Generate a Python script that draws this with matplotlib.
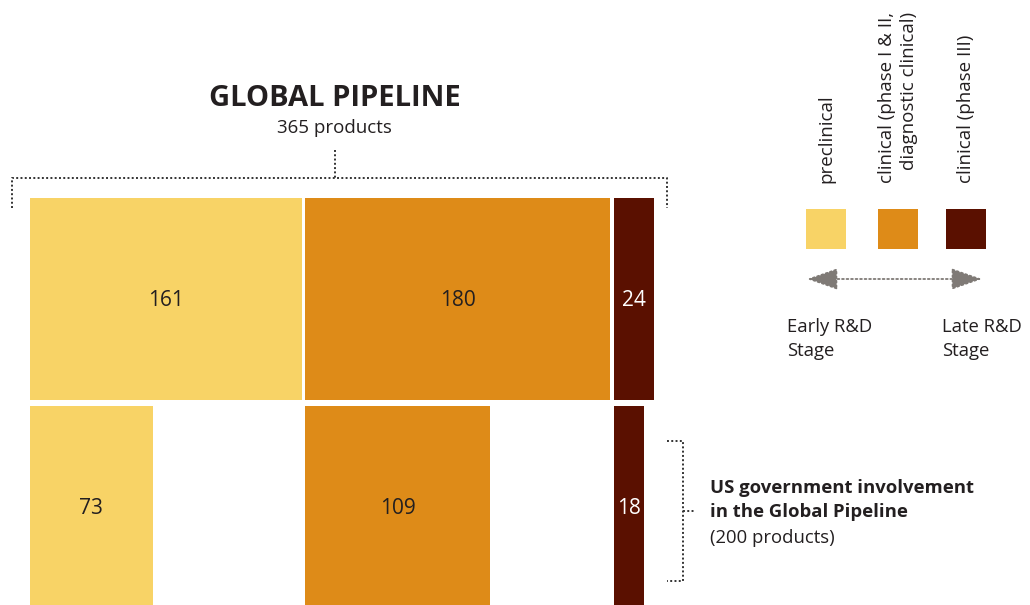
import matplotlib.pyplot as plt

plt.rcParams["font.family"] = ["Open Sans", "DejaVu Sans"]

stages = ["preclinical", "clinical (phase I & II,\ndiagnostic clinical)", "clinical (phase III)"]
global_counts = [161, 180, 24]
us_counts = [73, 109, 18]
stage_colors = ["#F8D366", "#DE8B18", "#5A1000"]
number_colors = ["#231F20", "#231F20", "#FFFFFF"]
global_total = sum(global_counts)
us_total = sum(us_counts)

W, H = 1030, 605
PX_PER_UNIT = 1.69
X0 = 29.5
GAP = 2.3
TEXT = "#231F20"
DOT = "#333333"
dotted = dict(color=DOT, lw=1.4, ls=(0, (1, 1.2)))

fig = plt.figure(figsize=(W / 100, H / 100), dpi=100)

# bars: x in products, y in pixels from the top
ax = fig.add_axes([0, 0, 1, 1])
ax.set_xlim(-X0 / PX_PER_UNIT, (W - X0) / PX_PER_UNIT)
ax.set_ylim(H, 0)
ax.axis("off")

starts = []
pos = 0
for c in global_counts:
    starts.append(pos)
    pos += c + GAP

rows = [(global_counts, 198, 202, 300), (us_counts, 406, 220, 508)]
for counts, top, height, label_y in rows:
    for i, c in enumerate(counts):
        ax.bar(starts[i], height, width=c, bottom=top, align="edge",
               color=stage_colors[i], lw=0)
        ax.text(starts[i] + c / 2, label_y, str(c), ha="center", va="center",
                fontsize=15, color=number_colors[i])

# annotations in pixel coordinates
ov = fig.add_axes([0, 0, 1, 1])
ov.set_xlim(0, W)
ov.set_ylim(H, 0)
ov.axis("off")
ov.patch.set_alpha(0)

ov.text(335, 99, "GLOBAL PIPELINE", ha="center", va="center",
        fontsize=21, fontweight="bold", color=TEXT)
ov.text(334, 128, f"{global_total} products", ha="center", va="center",
        fontsize=13.5, color=TEXT)

# bracket over the global row
ov.plot([12, 12, 667, 667], [208, 178, 178, 208], **dotted)
ov.plot([335, 335], [150, 178], **dotted)

# bracket beside the US row
ov.plot([667, 683, 683, 667], [441, 441, 581, 581], **dotted)
ov.plot([683, 694], [511, 511], **dotted)
ov.text(710, 488, "US government involvement", ha="left", va="center",
        fontsize=13.3, fontweight="bold", color=TEXT)
ov.text(710, 512, "in the Global Pipeline", ha="left", va="center",
        fontsize=13.3, fontweight="bold", color=TEXT)
ov.text(710, 538, f"({us_total} products)", ha="left", va="center",
        fontsize=13.3, color=TEXT)

# legend
legend_x = [826, 898, 966]
for i, name in enumerate(stages):
    ov.text(legend_x[i], 183, name, rotation=90, ha="center", va="bottom",
            fontsize=13.5, color=TEXT, multialignment="right", linespacing=1.35)
    ov.add_patch(plt.Rectangle((legend_x[i] - 20, 209), 40, 40,
                               color=stage_colors[i], lw=0))

ov.annotate("", xy=(807, 279), xytext=(982, 279),
            arrowprops=dict(arrowstyle="<|-|>,head_length=0.8,head_width=0.28",
                            color="#7F7A76", lw=1.3, ls=(0, (1, 1.5)),
                            mutation_scale=24, shrinkA=0, shrinkB=0))
ov.text(787, 339, "Early R&D\nStage", ha="left", va="center",
        fontsize=13.3, color=TEXT, linespacing=1.5)
ov.text(942, 339, "Late R&D\nStage", ha="left", va="center",
        fontsize=13.3, color=TEXT, linespacing=1.5)

fig.savefig("out.png", dpi=100)
